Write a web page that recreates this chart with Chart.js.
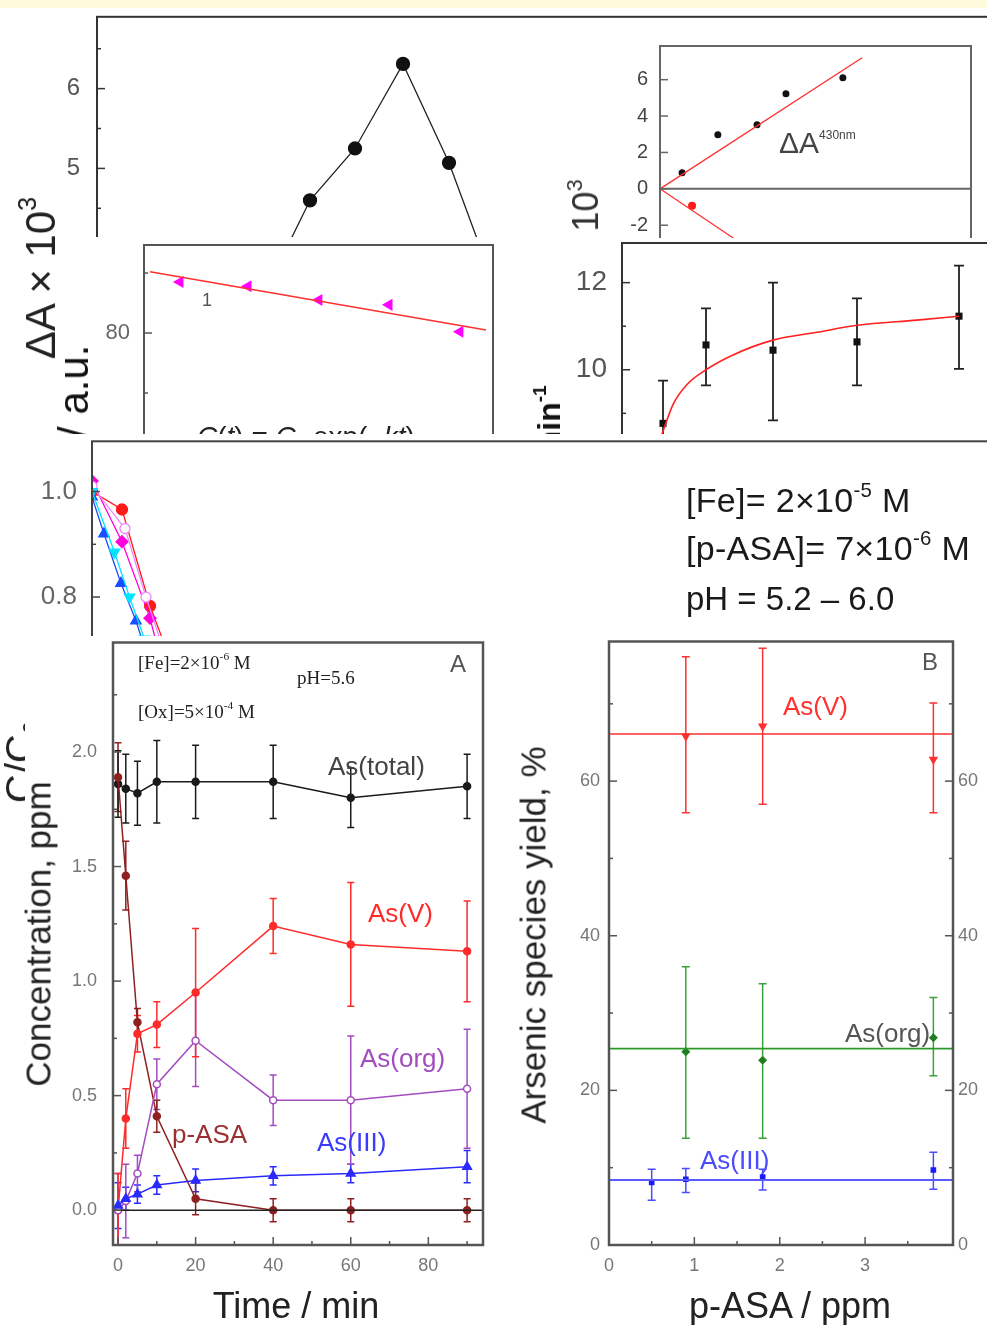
<!DOCTYPE html>
<html><head><meta charset="utf-8">
<script src="https://cdn.jsdelivr.net/npm/chart.js@4.4.1/dist/chart.umd.min.js"></script>
<style>
html,body{margin:0;padding:0;width:987px;height:1325px;overflow:hidden;background:#fff;font-family:"Liberation Sans",Arial,sans-serif;}
.panel{position:absolute;background:#fff;overflow:visible;}
.panel canvas{position:absolute;left:0;top:0;}
.t{position:absolute;white-space:nowrap;line-height:1;}
.sp{font-size:.6em;position:relative;top:-.75em;}
.sb{font-size:.6em;position:relative;top:.25em;}
</style></head><body>
<div style="position:absolute;left:0;top:0;width:987px;height:8px;background:#fefbdc"></div>
<script>
// ---------- DATA ----------
// Panel 1 (top-left, black dots)
const P1_X = [1.68, 2.13, 2.58, 3.06, 3.52, 3.88];
const P1_Y = [3.45, 4.60, 5.25, 6.31, 5.07, 3.85];
const P1_YTICKS = [3, 4, 5, 6];
// Panel 3 (top-right inset, ΔA430nm)
const P3_X = [0.71, 1.86, 3.12, 4.05, 5.88];
const P3_Y = [0.88, 2.97, 3.52, 5.22, 6.10];
const P3_RX = [1.03];
const P3_RY = [-0.93];
const P3_FITUP_X = [0, 6.5], P3_FITUP_Y = [0, 7.2];
const P3_FITDN_X = [0, 4.0], P3_FITDN_Y = [0, -4.6];
const P3_ZERO_X = [0, 10], P3_ZERO_Y = [0, 0];
const P3_YTICKS = [-6, -4, -2, 0, 2, 4, 6];
// Panel 2 (magenta triangles)
const P2_X = [1.03, 2.98, 5.01, 7.02, 9.05];
const P2_Y = [88.5, 87.8, 85.5, 84.7, 80.2];
const P2_FIT_X = [0.17, 9.8], P2_FIT_Y = [90.2, 80.5];
const P2_YTICKS = [60, 80];
// Panel 4 (rate constant, black squares)
const P4_X = [0.82, 1.68, 3.02, 4.70, 6.74];
const P4_Y = [8.77, 10.57, 10.45, 10.64, 11.23];
const P4_LO = [7.80, 9.64, 8.84, 9.64, 10.02];
const P4_HI = [9.75, 11.41, 12.00, 11.64, 12.39];
const P4_FIT_X = [0.80, 1.02, 1.30, 1.68, 2.22, 3.02, 3.90, 4.70, 5.90, 6.74];
const P4_FIT_Y = [8.52, 9.20, 9.66, 10.00, 10.34, 10.68, 10.86, 11.02, 11.14, 11.23];
const P4_YTICKS = [6, 8, 10, 12];
// Panel 5 (C/C0 decay)
const P5_RED_X = [0, 2, 3.87, 5.5], P5_RED_Y = [1.0, 0.966, 0.783, 0.66];
const P5_MAG_X = [0, 2, 3.87, 5.3], P5_MAG_Y = [1.02, 0.905, 0.76, 0.60];
const P5_PINK_X = [0, 2.2, 3.6, 5.0], P5_PINK_Y = [1.01, 0.93, 0.80, 0.68];
const P5_BLUE_X = [0, 0.8, 1.93, 2.93, 4.0], P5_BLUE_Y = [0.99, 0.92, 0.826, 0.755, 0.66];
const P5_CYAN_X = [0, 1.5, 2.5, 3.5], P5_CYAN_Y = [1.0, 0.885, 0.80, 0.72];
const P5_YTICKS = [0.4, 0.6, 0.8, 1.0];
// Panel A (concentration vs time)
const A_T = [0, 2, 5, 10, 20, 40, 60, 90];
const A_TOTAL = [1.86, 1.84, 1.82, 1.87, 1.87, 1.87, 1.80, 1.85];
const A_TOTAL_E = [0.145, 0.15, 0.14, 0.18, 0.16, 0.16, 0.13, 0.14];
const A_PASA = [1.89, 1.46, 0.82, 0.41, 0.05, 0.0, 0.0, 0.0];
const A_PASA_E = [0.15, 0.15, 0.06, 0.07, 0.07, 0.05, 0.05, 0.05];
const A_ASV = [0.0, 0.40, 0.77, 0.81, 0.95, 1.24, 1.16, 1.13];
const A_ASV_E = [0.16, 0.13, 0.08, 0.10, 0.28, 0.12, 0.27, 0.22];
const A_ORG = [0.0, 0.04, 0.16, 0.55, 0.74, 0.48, 0.48, 0.53];
const A_ORG_E = [0.16, 0.16, 0.08, 0.11, 0.20, 0.11, 0.28, 0.26];
const A_III = [0.02, 0.05, 0.07, 0.11, 0.13, 0.15, 0.16, 0.19];
const A_III_E = [0.10, 0.05, 0.04, 0.04, 0.05, 0.04, 0.04, 0.07];
const A_ZERO_X = [-1.3, 94.1], A_ZERO_Y = [0, 0];
const A_XTICKS = [0, 20, 40, 60, 80];
const A_YTICKS = [0, 0.5, 1.0, 1.5, 2.0];
// Panel B (yield vs p-ASA)
const B_X = [0.9, 1.8, 3.8];
const B_ASV = [65.8, 67.1, 62.8];
const B_ASV_LO = [55.9, 57.0, 55.9], B_ASV_HI = [76.1, 77.2, 70.1];
const B_ORG = [25.0, 23.9, 26.8];
const B_ORG_LO = [13.8, 13.8, 21.9], B_ORG_HI = [36.0, 33.8, 32.0];
const B_III_X = [0.5, 0.9, 1.8, 3.8];
const B_III = [8.1, 8.5, 8.8, 9.7];
const B_III_LO = [5.8, 6.8, 7.1, 7.2], B_III_HI = [9.8, 9.9, 9.8, 12.0];
const B_FIT_X = [0, 4.03];
const B_FIT_ASV = [66.1, 66.1], B_FIT_ORG = [25.4, 25.4], B_FIT_III = [8.4, 8.4];
const B_XTICKS = [0, 1, 2, 3];
const B_YTICKS = [0, 20, 40, 60];

// ---------- HELPERS ----------
const pts = (xs, ys) => xs.map((x, i) => ({x: x, y: ys[i]}));
const plus = (ys, es) => ys.map((y, i) => y + es[i]);
const minus = (ys, es) => ys.map((y, i) => y - es[i]);

const framePlugin = {
  id: 'frame',
  afterDraw(chart, args, o) {
    if (!o || !o.color) return;
    const ctx = chart.ctx, a = chart.chartArea;
    ctx.save();
    ctx.strokeStyle = o.color; ctx.lineWidth = o.width;
    ctx.strokeRect(a.left, a.top, a.right - a.left, a.bottom - a.top);
    ctx.lineWidth = o.tickWidth || 1.5;
    (o.marks || []).forEach(m => {
      const sc = chart.scales[m.scale];
      const majors = sc.ticks.map(t => t.value);
      const list = majors.map(v => [v, 8]);
      if (m.minor && majors.length > 1) {
        const step = (majors[1] - majors[0]) / (m.minor + 1);
        for (let v = majors[0] - step; v >= sc.min - 1e-9; v -= step) list.push([v, 4]);
        majors.forEach(mv => { for (let k = 1; k <= m.minor; k++) { const v = mv + k * step; if (v <= sc.max + 1e-9) list.push([v, 4]); } });
      }
      list.forEach(([v, len]) => {
        const p = sc.getPixelForValue(v);
        ctx.beginPath();
        if (m.side === 'left') { ctx.moveTo(a.left, p); ctx.lineTo(a.left + len, p); }
        if (m.side === 'right') { ctx.moveTo(a.right, p); ctx.lineTo(a.right - len, p); }
        if (m.side === 'bottom') { ctx.moveTo(p, a.bottom); ctx.lineTo(p, a.bottom - len); }
        if (m.side === 'top') { ctx.moveTo(p, a.top); ctx.lineTo(p, a.top + len); }
        ctx.stroke();
      });
    });
    ctx.restore();
  }
};

const errPlugin = {
  id: 'errbars',
  beforeDatasetsDraw(chart) {
    const ctx = chart.ctx, a = chart.chartArea;
    ctx.save();
    ctx.beginPath(); ctx.rect(a.left, a.top, a.right - a.left, a.bottom - a.top); ctx.clip();
    chart.data.datasets.forEach((ds, i) => {
      if (!ds.errLo) return;
      const meta = chart.getDatasetMeta(i);
      const ys = chart.scales[meta.yAxisID];
      ctx.strokeStyle = ds.errColor || ds.borderColor;
      ctx.lineWidth = ds.errWidth || 1.5;
      const cw = ds.capW || 4;
      meta.data.forEach((el, j) => {
        const x = el.x, y1 = ys.getPixelForValue(ds.errLo[j]), y2 = ys.getPixelForValue(ds.errHi[j]);
        ctx.beginPath();
        ctx.moveTo(x, y1); ctx.lineTo(x, y2);
        ctx.moveTo(x - cw, y1); ctx.lineTo(x + cw, y1);
        ctx.moveTo(x - cw, y2); ctx.lineTo(x + cw, y2);
        ctx.stroke();
      });
    });
    ctx.restore();
  }
};

function makePanel(rect, area, cfg) {
  const div = document.createElement('div');
  div.className = 'panel';
  Object.assign(div.style, {left: rect.l + 'px', top: rect.t + 'px', width: rect.w + 'px', height: rect.h + 'px'});
  document.body.appendChild(div);
  const cv = document.createElement('canvas');
  cv.width = rect.w; cv.height = rect.h;
  cv.style.width = rect.w + 'px'; cv.style.height = rect.h + 'px';
  div.appendChild(cv);
  const yW = area.l - rect.l, xH = rect.t + rect.h - area.b, padTop = area.t - rect.t, rW = rect.l + rect.w - area.r;
  const zeroPad = s => { s.paddingTop = 0; s.paddingBottom = 0; s.paddingLeft = 0; s.paddingRight = 0; };
  cfg.scales.x.afterFit = s => { s.height = xH; zeroPad(s); };
  cfg.scales.y.afterFit = s => { s.width = yW; zeroPad(s); };
  if (cfg.scales.y2) cfg.scales.y2.afterFit = s => { s.width = rW; zeroPad(s); };
  Object.values(cfg.scales).forEach(s => {
    s.type = 'linear';
    s.grid = {display: false, drawTicks: false};
    s.border = {display: false};
    s.ticks = Object.assign({includeBounds: false}, s.ticks || {});
    if (s.tickList) { const tl = s.tickList; s.afterBuildTicks = sc => { sc.ticks = tl.map(v => ({value: v})); }; }
  });
  const pad = {top: padTop, right: cfg.scales.y2 ? 0 : rW, left: 0, bottom: 0};
  const ch = new Chart(cv, {
    type: 'line',
    data: {datasets: cfg.datasets},
    options: {
      responsive: false, animation: false, devicePixelRatio: 1,
      layout: {padding: pad},
      plugins: {legend: {display: false}, tooltip: {enabled: false}, frame: cfg.frame},
      scales: cfg.scales,
      elements: {line: {tension: 0}}
    },
    plugins: [framePlugin, errPlugin]
  });
  for (let k = 0; k < 4; k++) {
    const ca = ch.chartArea;
    const dT = (area.t - rect.t) - ca.top;
    const dL = (area.l - rect.l) - ca.left;
    const dR = ca.right - (area.r - rect.l);
    const dB = ca.bottom - (area.b - rect.t);
    if (Math.abs(dT) < 0.3 && Math.abs(dL) < 0.3 && Math.abs(dR) < 0.3 && Math.abs(dB) < 0.3) break;
    pad.top += dT; pad.left += dL; pad.right += dR; pad.bottom += dB;
    ch.options.layout.padding = {top: pad.top, left: pad.left, right: pad.right, bottom: pad.bottom};
    ch.update('none');
  }
  return {div: div, rect: rect};
}

function txt(p, html, x, y, css, center) {
  const d = document.createElement('div');
  d.className = 't'; d.innerHTML = html;
  Object.assign(d.style, css || {});
  d.style.left = (x - p.rect.l) + 'px'; d.style.top = (y - p.rect.t) + 'px';
  d.style.transform = center ? 'translate(-50%,-50%)' : 'translateY(-50%)';
  p.div.appendChild(d);
}
function vtxt(p, html, cx, cy, css) {
  const d = document.createElement('div');
  d.className = 't'; d.innerHTML = html;
  Object.assign(d.style, css || {});
  d.style.left = (cx - p.rect.l) + 'px'; d.style.top = (cy - p.rect.t) + 'px';
  d.style.transform = 'translate(-50%,-50%) rotate(-90deg)';
  p.div.appendChild(d);
}
const line = (data, color, w, extra) => Object.assign({data: data, borderColor: color, backgroundColor: color, borderWidth: w, pointRadius: 0, fill: false}, extra || {});

// ---------- PANEL 1 ----------
const p1 = makePanel({l: 0, t: 9, w: 1120, h: 430}, {l: 97, t: 14, r: 1097, b: 328}, {
  datasets: [line(pts(P1_X, P1_Y), '#222', 1.3, {pointRadius: 6.5, pointBackgroundColor: '#111', pointBorderColor: '#111'})],
  scales: {
    x: {min: 0, max: 10, ticks: {display: false}},
    y: {min: 3, max: 6.9, tickList: P1_YTICKS, ticks: {padding: 17, color: '#555', font: {size: 24, family: 'Liberation Sans'}}}
  },
  frame: {color: '#333', width: 2, marks: [{scale: 'y', side: 'left', minor: 1}]}
});
vtxt(p1, 'ΔA × 10<span class="sp">3</span>', 40.5, 278, {fontSize: '42px', color: '#222'});

// ---------- PANEL 3 ----------
const p3 = makePanel({l: 560, t: 30, w: 440, h: 280}, {l: 660, t: 46, r: 971, b: 298}, {
  datasets: [
    line(pts(P3_ZERO_X, P3_ZERO_Y), '#666', 2),
    line(pts(P3_FITUP_X, P3_FITUP_Y), '#ff3030', 1.3),
    line(pts(P3_FITDN_X, P3_FITDN_Y), '#ff3030', 1.3),
    line(pts(P3_X, P3_Y), '#111', 0, {showLine: false, pointRadius: 3.5}),
    line(pts(P3_RX, P3_RY), '#ff1a1a', 0, {showLine: false, pointRadius: 4})
  ],
  scales: {
    x: {min: 0, max: 10, ticks: {display: false}},
    y: {min: -6, max: 7.85, tickList: P3_YTICKS, ticks: {padding: 12, color: '#444', font: {size: 20, family: 'Liberation Sans'}}}
  },
  frame: {color: '#666', width: 2, marks: [{scale: 'y', side: 'left', minor: 0}]}
});
txt(p3, 'ΔA<span class="sp" style="font-size:.4em;top:-1.2em">430nm</span>', 779, 143, {fontSize: '30px', color: '#444'});
vtxt(p3, 'ΔA × 10<span class="sp">3</span>', 585.5, 248.5, {fontSize: '36px', color: '#333'});

// ---------- PANEL 2 ----------
const p2 = makePanel({l: 56, t: 237, w: 449, h: 230}, {l: 144, t: 245, r: 493, b: 453}, {
  datasets: [
    line(pts(P2_FIT_X, P2_FIT_Y), '#ff3030', 1.5),
    line(pts(P2_X, P2_Y), '#ff00ff', 0, {showLine: false, pointStyle: 'triangle', rotation: -90, pointRadius: 7})
  ],
  scales: {
    x: {min: 0, max: 10, ticks: {display: false}},
    y: {min: 60, max: 94.67, tickList: P2_YTICKS, ticks: {padding: 14, color: '#666', font: {size: 22, family: 'Liberation Sans'}}}
  },
  frame: {color: '#555', width: 2, marks: [{scale: 'y', side: 'left', minor: 1}]}
});
txt(p2, '1', 202, 300, {fontSize: '18px', color: '#555'});
txt(p2, '<i>C</i>(<i>t</i>) = <i>C</i><span class="sb">0</span> exp(−<i>kt</i>)', 197, 437, {fontSize: '28px', color: '#222'});
vtxt(p2, 'I / a.u.', 73.5, 403, {fontSize: '42px', color: '#111'});

// ---------- PANEL 4 ----------
const p4 = makePanel({l: 505, t: 238, w: 620, h: 320}, {l: 622, t: 240, r: 1110, b: 544}, {
  datasets: [
    line(pts(P4_FIT_X, P4_FIT_Y), '#ff2020', 1.6, {cubicInterpolationMode: 'monotone'}),
    line(pts(P4_X, P4_Y), '#111', 0, {showLine: false, pointStyle: 'rect', pointRadius: 5,
      errLo: P4_LO, errHi: P4_HI, errColor: '#222', errWidth: 1.8, capW: 5})
  ],
  scales: {
    x: {min: 0, max: 9.76, ticks: {display: false}},
    y: {min: 6, max: 12.91, tickList: P4_YTICKS, ticks: {padding: 15, color: '#555', font: {size: 28, family: 'Liberation Sans'}}}
  },
  frame: {color: '#333', width: 2, marks: [{scale: 'y', side: 'left', minor: 1}]}
});
vtxt(p4, 'k, min<span class="sp">-1</span>', 549, 440, {fontSize: '32px', fontWeight: 'bold', color: '#111'});

// ---------- PANEL 5 ----------
const p5 = makePanel({l: 0, t: 434, w: 1120, h: 420}, {l: 92, t: 436, r: 1112, b: 808}, {
  datasets: [
    line(pts(P5_CYAN_X, P5_CYAN_Y), '#00e5ff', 1.3, {pointStyle: 'triangle', rotation: 180, pointRadius: 6}),
    line(pts(P5_BLUE_X, P5_BLUE_Y), '#1a4dff', 1.3, {pointStyle: 'triangle', pointRadius: 6}),
    line(pts(P5_PINK_X, P5_PINK_Y), '#ee88ff', 1.3, {pointRadius: 5, pointBackgroundColor: '#fff'}),
    line(pts(P5_MAG_X, P5_MAG_Y), '#ff00dd', 1.3, {pointStyle: 'rectRot', pointRadius: 6}),
    line(pts(P5_RED_X, P5_RED_Y), '#ff1a1a', 1.3, {pointRadius: 5.5})
  ],
  scales: {
    x: {min: 0, max: 68, ticks: {display: false}},
    y: {min: 0.4, max: 1.0953, tickList: P5_YTICKS, ticks: {padding: 15, color: '#666', font: {size: 26, family: 'Liberation Sans'}, callback: v => v.toFixed(1)}}
  },
  frame: {color: '#444', width: 2, marks: [{scale: 'y', side: 'left', minor: 1}]}
});
vtxt(p5, 'C/C<span class="sb">0</span>', 20, 762, {fontSize: '40px', color: '#222'});
const fe = {fontSize: '34px', color: '#1a1a1a', letterSpacing: '0.3px'};
txt(p5, '[Fe]= 2×10<span class="sp">-5</span> M', 686, 500, fe);
txt(p5, '[p-ASA]= 7×10<span class="sp">-6</span> M', 686, 548, fe);
txt(p5, 'pH = 5.2 – 6.0', 686, 598, {fontSize: '33px', color: '#1a1a1a'});

// ---------- PANEL A ----------
const cTot = '#1a1a1a', cV = '#ff2a2a', cOrg = '#a24cc0', cIII = '#2a2aff', cP = '#8e2020';
const pA = makePanel({l: 25, t: 636, w: 475, h: 689}, {l: 113, t: 640, r: 483, b: 1245}, {
  datasets: [
    line(pts(A_ZERO_X, A_ZERO_Y), '#222', 1.5),
    line(pts(A_T, A_III), cIII, 1.5, {pointStyle: 'triangle', pointRadius: 5, errLo: minus(A_III, A_III_E), errHi: plus(A_III, A_III_E), capW: 3.5}),
    line(pts(A_T, A_ORG), cOrg, 1.5, {pointRadius: 3.5, pointBackgroundColor: '#fff', errLo: minus(A_ORG, A_ORG_E), errHi: plus(A_ORG, A_ORG_E), capW: 3.5}),
    line(pts(A_T, A_ASV), cV, 1.5, {pointRadius: 3.5, errLo: minus(A_ASV, A_ASV_E), errHi: plus(A_ASV, A_ASV_E), capW: 3.5}),
    line(pts(A_T, A_PASA), cP, 1.5, {pointRadius: 3.5, errLo: minus(A_PASA, A_PASA_E), errHi: plus(A_PASA, A_PASA_E), capW: 3.5}),
    line(pts(A_T, A_TOTAL), cTot, 1.5, {pointRadius: 3.5, errLo: minus(A_TOTAL, A_TOTAL_E), errHi: plus(A_TOTAL, A_TOTAL_E), capW: 3.5})
  ],
  scales: {
    x: {min: -1.3, max: 94.1, tickList: A_XTICKS, ticks: {padding: 10, color: '#777', font: {size: 18, family: 'Liberation Sans'}}},
    y: {min: -0.152, max: 2.478, tickList: A_YTICKS, ticks: {padding: 16, color: '#777', font: {size: 18, family: 'Liberation Sans'}, callback: v => v.toFixed(1)}}
  },
  frame: {color: '#555', width: 2.5, marks: [{scale: 'y', side: 'left', minor: 1}, {scale: 'x', side: 'bottom', minor: 1}]}
});
const serif = {fontFamily: '"Liberation Serif","Times New Roman",serif', fontSize: '19px', color: '#222'};
txt(pA, '[Fe]=2×10<span class="sp">-6</span> M', 138, 662, serif);
txt(pA, 'pH=5.6', 297, 677, serif);
txt(pA, '[Ox]=5×10<span class="sp">-4</span> M', 138, 711, serif);
txt(pA, 'A', 450, 664, {fontSize: '24px', color: '#555'});
txt(pA, 'As(total)', 328, 766, {fontSize: '26px', color: '#444'});
txt(pA, 'As(V)', 368, 913, {fontSize: '26px', color: cV});
txt(pA, 'As(org)', 360, 1058, {fontSize: '26px', color: cOrg});
txt(pA, 'p-ASA', 172, 1134, {fontSize: '26px', color: '#9b3030'});
txt(pA, 'As(III)', 317, 1142, {fontSize: '26px', color: '#3a3aff'});
txt(pA, 'Time / min', 296, 1306, {fontSize: '36px', color: '#222'}, true);
vtxt(pA, 'Concentration, ppm', 38, 934, {fontSize: '35px', color: '#222'});

// ---------- PANEL B ----------
const bV = '#ff3030', bO = '#2a9a2a', bI = '#3a3aff';
const pB = makePanel({l: 500, t: 636, w: 487, h: 689}, {l: 609, t: 640, r: 953, b: 1245}, {
  datasets: [
    line(pts(B_FIT_X, B_FIT_ASV), bV, 1.6),
    line(pts(B_FIT_X, B_FIT_ORG), bO, 1.6),
    line(pts(B_FIT_X, B_FIT_III), '#5a5aff', 2),
    line(pts(B_X, B_ASV), bV, 0, {showLine: false, pointStyle: 'triangle', rotation: 180, pointRadius: 5.5, errLo: B_ASV_LO, errHi: B_ASV_HI, capW: 4}),
    line(pts(B_X, B_ORG), '#1f7f1f', 0, {showLine: false, pointStyle: 'rectRot', pointRadius: 4.5, errLo: B_ORG_LO, errHi: B_ORG_HI, errColor: '#3aa23a', capW: 4}),
    line(pts(B_III_X, B_III), '#1a1aff', 0, {showLine: false, pointStyle: 'rect', pointRadius: 4, errLo: B_III_LO, errHi: B_III_HI, errColor: '#4a4aff', capW: 4})
  ],
  scales: {
    x: {min: 0, max: 4.03, tickList: B_XTICKS, ticks: {padding: 10, color: '#777', font: {size: 18, family: 'Liberation Sans'}}},
    y: {min: 0, max: 78.06, tickList: B_YTICKS, ticks: {padding: 9, color: '#777', font: {size: 18, family: 'Liberation Sans'}}},
    y2: {position: 'right', min: 0, max: 78.06, tickList: B_YTICKS, ticks: {padding: 5, color: '#777', font: {size: 18, family: 'Liberation Sans'}}}
  },
  frame: {color: '#555', width: 2.5, marks: [{scale: 'y', side: 'left', minor: 1}, {scale: 'y2', side: 'right', minor: 1}, {scale: 'x', side: 'bottom', minor: 1}]}
});
txt(pB, 'B', 922, 662, {fontSize: '24px', color: '#555'});
txt(pB, 'As(V)', 783, 706, {fontSize: '26px', color: bV});
txt(pB, 'As(org)', 845, 1033, {fontSize: '26px', color: '#555'});
txt(pB, 'As(III)', 700, 1160, {fontSize: '26px', color: '#4a4aff'});
txt(pB, 'p-ASA / ppm', 790, 1306, {fontSize: '36px', color: '#222'}, true);
vtxt(pB, 'Arsenic species yield, %', 533, 935, {fontSize: '35px', color: '#222'});
</script>
</body></html>
